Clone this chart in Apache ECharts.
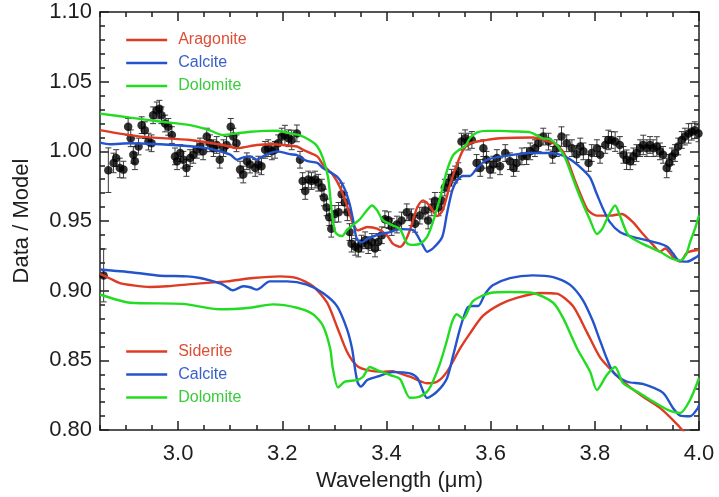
<!DOCTYPE html>
<html>
<head>
<meta charset="utf-8">
<script src="https://cdn.jsdelivr.net/npm/echarts@6/dist/echarts.min.js"></script>
<style>
  html, body { margin: 0; padding: 0; background: #fff; }
  #chart { width: 719px; height: 497px; }
</style>
</head>
<body>
<div id="chart"></div>
<script>
// Axis ranges and tick positions
const xRange = [2.85, 4.0];
const yRange = [0.80, 1.10];
const xMajorTicks = [3.0, 3.2, 3.4, 3.6, 3.8, 4.0];
const xMinorStep = 0.05;
const yMajorStep = 0.05;

// Measured ratio: [wavelength (um), data/model, 1-sigma error]
const observed = [
[2.866,0.9865,0.016],[2.876,0.9917,0.007],[2.881,0.9952,0.006],[2.888,0.9881,0.007],[2.895,0.9869,0.006],
[2.904,1.0176,0.006],[2.909,1.0094,0.006],[2.914,0.9975,0.006],[2.917,0.9929,0.006],[2.924,1.0035,0.006],
[2.930,1.0188,0.006],[2.936,1.0152,0.006],[2.943,1.0070,0.006],[2.949,1.0058,0.006],[2.952,1.0259,0.006],
[2.959,1.0294,0.006],[2.964,1.0306,0.006],[2.968,1.0259,0.006],[2.975,1.0200,0.006],[2.981,1.0176,0.006],
[2.988,1.0117,0.006],[2.994,0.9964,0.006],[2.998,0.9929,0.006],[3.004,0.9988,0.006],[3.010,0.9940,0.006],
[3.016,0.9881,0.006],[3.023,0.9952,0.006],[3.029,0.9975,0.006],[3.036,1.0011,0.006],[3.042,1.0035,0.006],
[3.048,1.0000,0.006],[3.055,1.0106,0.006],[3.061,1.0058,0.006],[3.068,1.0023,0.006],[3.074,1.0046,0.006],
[3.080,0.9940,0.006],[3.087,1.0023,0.006],[3.093,1.0046,0.006],[3.101,1.0176,0.006],[3.106,1.0106,0.006],
[3.112,1.0058,0.006],[3.119,0.9869,0.006],[3.125,0.9834,0.006],[3.132,0.9929,0.006],[3.138,0.9905,0.006],
[3.148,0.9881,0.006],[3.154,0.9905,0.006],[3.160,0.9893,0.006],[3.167,1.0011,0.006],[3.173,1.0023,0.006],
[3.180,1.0000,0.006],[3.186,1.0011,0.006],[3.192,1.0058,0.006],[3.199,1.0106,0.006],[3.205,1.0117,0.007],
[3.212,1.0094,0.006],[3.218,1.0082,0.007],[3.228,1.0129,0.006],[3.234,0.9940,0.006],[3.239,0.9787,0.006],
[3.244,0.9716,0.006],[3.250,0.9798,0.006],[3.256,0.9787,0.006],[3.263,0.9798,0.006],[3.269,0.9775,0.006],
[3.276,0.9740,0.006],[3.280,0.9669,0.006],[3.285,0.9598,0.006],[3.290,0.9527,0.006],[3.294,0.9445,0.006],
[3.301,0.9551,0.006],[3.308,0.9563,0.007],[3.314,0.9692,0.008],[3.320,0.9634,0.007],[3.325,0.9563,0.006],
[3.329,0.9421,0.006],[3.333,0.9338,0.006],[3.340,0.9315,0.006],[3.346,0.9303,0.006],[3.352,0.9338,0.006],
[3.359,0.9362,0.006],[3.365,0.9327,0.006],[3.372,0.9350,0.006],[3.378,0.9303,0.006],[3.384,0.9350,0.006],
[3.391,0.9398,0.006],[3.397,0.9513,0.006],[3.404,0.9506,0.006],[3.410,0.9457,0.006],[3.420,0.9475,0.006],
[3.429,0.9504,0.006],[3.439,0.9563,0.006],[3.448,0.9527,0.006],[3.455,0.9480,0.006],[3.464,0.9539,0.006],
[3.474,0.9575,0.006],[3.480,0.9504,0.006],[3.487,0.9598,0.006],[3.493,0.9645,0.006],[3.500,0.9598,0.006],
[3.506,0.9645,0.006],[3.512,0.9740,0.006],[3.519,0.9775,0.006],[3.525,0.9811,0.006],[3.532,0.9834,0.006],
[3.538,0.9858,0.006],[3.544,1.0070,0.006],[3.551,1.0094,0.006],[3.557,1.0070,0.006],[3.564,1.0082,0.006],
[3.573,0.9917,0.006],[3.580,0.9881,0.006],[3.586,1.0023,0.006],[3.592,0.9940,0.006],[3.599,0.9869,0.006],
[3.605,0.9905,0.006],[3.612,0.9952,0.006],[3.618,0.9893,0.006],[3.628,0.9988,0.006],[3.637,0.9929,0.006],
[3.644,0.9881,0.006],[3.650,0.9917,0.006],[3.660,0.9964,0.006],[3.669,0.9966,0.006],[3.676,1.0000,0.006],
[3.685,1.0023,0.006],[3.692,1.0058,0.006],[3.701,1.0106,0.006],[3.711,1.0070,0.006],[3.719,0.9975,0.006],
[3.727,1.0023,0.006],[3.736,1.0106,0.007],[3.746,1.0058,0.006],[3.756,1.0023,0.006],[3.765,0.9980,0.006],
[3.772,1.0035,0.006],[3.778,1.0000,0.006],[3.788,0.9917,0.006],[3.794,0.9988,0.006],[3.804,1.0023,0.006],
[3.810,0.9975,0.006],[3.820,1.0046,0.006],[3.826,1.0082,0.007],[3.832,1.0082,0.006],[3.839,1.0070,0.007],
[3.848,1.0046,0.006],[3.855,0.9975,0.006],[3.861,0.9940,0.007],[3.868,0.9929,0.006],[3.874,0.9964,0.006],
[3.880,0.9988,0.006],[3.887,1.0023,0.006],[3.893,1.0046,0.007],[3.900,1.0023,0.006],[3.906,1.0046,0.006],
[3.912,1.0023,0.006],[3.919,1.0035,0.007],[3.925,1.0000,0.006],[3.931,0.9975,0.006],[3.938,0.9881,0.007],
[3.943,0.9917,0.006],[3.948,0.9964,0.006],[3.954,0.9988,0.006],[3.960,1.0035,0.006],[3.967,1.0082,0.006],
[3.973,1.0106,0.006],[3.980,1.0129,0.007],[3.986,1.0141,0.006],[3.992,1.0152,0.006],[3.999,1.0129,0.006],
[2.857,0.9110,0.019]
];

// Upper model set
const aragonite = [
[2.850,1.0152],[2.927,1.0106],[3.023,1.0082],[3.086,1.0046],[3.113,1.0023],[3.151,1.0046],[3.182,1.0051],
[3.201,1.0046],[3.228,1.0035],[3.240,1.0011],[3.267,0.9964],[3.278,0.9905],[3.297,0.9832],[3.311,0.9740],
[3.324,0.9612],[3.336,0.9480],[3.345,0.9433],[3.363,0.9457],[3.382,0.9445],[3.401,0.9398],[3.412,0.9338],
[3.426,0.9315],[3.434,0.9343],[3.445,0.9435],[3.459,0.9598],[3.470,0.9648],[3.484,0.9605],[3.497,0.9535],
[3.508,0.9577],[3.522,0.9761],[3.535,0.9903],[3.547,1.0009],[3.560,1.0058],[3.593,1.0082],[3.618,1.0094],
[3.681,1.0099],[3.708,1.0075],[3.724,1.0051],[3.737,1.0009],[3.748,0.9931],[3.762,0.9789],[3.775,0.9669],
[3.787,0.9577],[3.804,0.9539],[3.829,0.9539],[3.852,0.9551],[3.873,0.9492],[3.892,0.9409],[3.912,0.9327],
[3.925,0.9280],[3.935,0.9303],[3.950,0.9244],[3.964,0.9209],[3.977,0.9273],[3.996,0.9292],[4.000,0.9294]
];
const calciteUpper = [
[2.850,1.0063],[2.869,1.0051],[2.908,1.0058],[2.990,1.0046],[3.055,1.0023],[3.100,0.9976],[3.113,0.9940],
[3.125,0.9957],[3.138,0.9964],[3.151,0.9940],[3.163,0.9964],[3.176,0.9988],[3.190,1.0000],[3.215,0.9980],
[3.228,0.9973],[3.247,0.9931],[3.267,0.9917],[3.278,0.9881],[3.305,0.9818],[3.320,0.9728],[3.330,0.9612],
[3.336,0.9506],[3.343,0.9372],[3.353,0.9347],[3.363,0.9372],[3.382,0.9400],[3.407,0.9421],[3.426,0.9442],
[3.451,0.9435],[3.468,0.9338],[3.478,0.9280],[3.489,0.9303],[3.507,0.9386],[3.516,0.9551],[3.526,0.9716],
[3.535,0.9787],[3.547,0.9823],[3.560,0.9823],[3.574,0.9881],[3.593,0.9940],[3.624,0.9964],[3.676,0.9988],
[3.714,0.9988],[3.739,0.9970],[3.758,0.9929],[3.777,0.9869],[3.791,0.9811],[3.804,0.9692],[3.816,0.9586],
[3.829,0.9492],[3.848,0.9421],[3.873,0.9386],[3.900,0.9362],[3.925,0.9338],[3.939,0.9315],[3.950,0.9268],
[3.960,0.9221],[3.977,0.9209],[3.996,0.9244],[4.000,0.9258]
];
const dolomiteUpper = [
[2.850,1.0271],[2.908,1.0242],[2.965,1.0214],[3.023,1.0188],[3.061,1.0150],[3.086,1.0117],[3.113,1.0129],
[3.138,1.0141],[3.167,1.0147],[3.190,1.0148],[3.215,1.0129],[3.234,1.0115],[3.253,1.0080],[3.267,1.0037],
[3.278,0.9952],[3.288,0.9811],[3.295,0.9563],[3.301,0.9428],[3.307,0.9400],[3.315,0.9393],[3.324,0.9435],
[3.340,0.9485],[3.349,0.9513],[3.361,0.9570],[3.372,0.9612],[3.382,0.9577],[3.393,0.9506],[3.411,0.9471],
[3.426,0.9442],[3.439,0.9343],[3.451,0.9329],[3.464,0.9336],[3.478,0.9386],[3.489,0.9492],[3.503,0.9669],
[3.516,0.9860],[3.528,0.9973],[3.541,1.0016],[3.551,1.0037],[3.560,1.0094],[3.574,1.0136],[3.593,1.0147],
[3.618,1.0147],[3.647,1.0143],[3.676,1.0136],[3.700,1.0094],[3.714,1.0087],[3.729,1.0037],[3.743,0.9952],
[3.756,0.9825],[3.772,0.9669],[3.791,0.9506],[3.804,0.9407],[3.814,0.9442],[3.823,0.9513],[3.839,0.9612],
[3.848,0.9542],[3.864,0.9400],[3.892,0.9336],[3.925,0.9280],[3.948,0.9230],[3.964,0.9216],[3.975,0.9258],
[3.983,0.9350],[3.992,0.9442],[4.000,0.9541]
];

// Lower model set
const siderite = [
[2.850,0.9120],[2.869,0.9088],[2.888,0.9055],[2.913,0.9039],[2.946,0.9027],[2.979,0.9032],[3.042,0.9053],
[3.094,0.9067],[3.144,0.9091],[3.196,0.9103],[3.228,0.9091],[3.259,0.9032],[3.286,0.8914],[3.305,0.8742],
[3.324,0.8564],[3.343,0.8462],[3.363,0.8430],[3.393,0.8418],[3.412,0.8423],[3.426,0.8407],[3.445,0.8383],
[3.478,0.8336],[3.497,0.8347],[3.516,0.8418],[3.541,0.8584],[3.560,0.8692],[3.585,0.8819],[3.618,0.8902],
[3.650,0.8949],[3.695,0.8984],[3.727,0.8979],[3.758,0.8890],[3.785,0.8701],[3.810,0.8522],[3.835,0.8418],
[3.862,0.8324],[3.892,0.8241],[3.925,0.8159],[3.958,0.8041],[3.983,0.7935],[4.000,0.7864]
];
const calciteLower = [
[2.850,0.9152],[2.913,0.9131],[2.965,0.9108],[3.017,0.9103],[3.042,0.9091],[3.061,0.9074],[3.086,0.9044],
[3.105,0.9003],[3.125,0.9032],[3.138,0.9025],[3.151,0.9008],[3.176,0.9067],[3.209,0.9067],[3.247,0.9044],
[3.278,0.8984],[3.305,0.8890],[3.324,0.8727],[3.334,0.8584],[3.340,0.8430],[3.345,0.8338],[3.351,0.8312],
[3.363,0.8359],[3.382,0.8383],[3.412,0.8416],[3.445,0.8407],[3.460,0.8371],[3.468,0.8300],[3.478,0.8230],
[3.497,0.8276],[3.516,0.8371],[3.528,0.8536],[3.541,0.8725],[3.555,0.8876],[3.566,0.8890],[3.576,0.8890],
[3.589,0.8975],[3.604,0.9039],[3.637,0.9091],[3.681,0.9110],[3.720,0.9098],[3.752,0.9044],[3.777,0.8933],
[3.796,0.8784],[3.810,0.8642],[3.835,0.8416],[3.862,0.8347],[3.892,0.8331],[3.931,0.8267],[3.950,0.8159],
[3.964,0.8104],[3.983,0.8099],[3.998,0.8159],[4.000,0.8182]
];
const dolomiteLower = [
[2.850,0.8973],[2.908,0.8914],[3.009,0.8906],[3.080,0.8867],[3.138,0.8878],[3.182,0.8902],[3.228,0.8878],
[3.259,0.8831],[3.278,0.8749],[3.292,0.8584],[3.297,0.8442],[3.307,0.8306],[3.320,0.8347],[3.343,0.8359],
[3.355,0.8383],[3.368,0.8453],[3.382,0.8430],[3.407,0.8395],[3.426,0.8366],[3.445,0.8232],[3.464,0.8241],
[3.478,0.8276],[3.489,0.8347],[3.503,0.8480],[3.516,0.8642],[3.526,0.8777],[3.535,0.8831],[3.547,0.8798],
[3.566,0.8925],[3.599,0.8984],[3.637,0.8991],[3.681,0.8984],[3.720,0.8914],[3.739,0.8805],[3.766,0.8586],
[3.791,0.8418],[3.804,0.8288],[3.823,0.8395],[3.839,0.8453],[3.854,0.8338],[3.881,0.8276],[3.906,0.8218],
[3.939,0.8147],[3.964,0.8123],[3.983,0.8218],[4.000,0.8374]
];

const RED = '#de3b24', BLUE = '#2354cc', GREEN = '#22dc22';
const RED_T = '#dc4e36', BLUE_T = '#3a60c8', GREEN_T = '#3acb3a';
const FONT = '"Liberation Sans", Arial, Helvetica, sans-serif';
const AXIS_COLOR = '#1e1e1e';

const chart = echarts.init(document.getElementById('chart'), null, { renderer: 'canvas' });

function modelLine(name, data, color) {
  return {
    name, type: 'line', data, xAxisIndex: 0, yAxisIndex: 0,
    showSymbol: false, symbol: 'none', smooth: 0.25, clip: true,
    lineStyle: { color, width: 2.4 }, itemStyle: { color },
    z: 4, silent: true
  };
}

function legendBlock(top, entries) {
  return {
    left: 125, top, orient: 'vertical', padding: 0, itemGap: 7,
    itemWidth: 41, itemHeight: 14, selectedMode: false,
    // legend keys are plain line segments, no marker
    itemStyle: { color: 'rgba(0,0,0,0)', borderWidth: 0, opacity: 0 },
    lineStyle: { width: 2.4 },
    textStyle: { fontFamily: FONT, fontSize: 16, padding: [0, 0, 0, 6] },
    data: entries.map(([name, color]) => ({ name, textStyle: { color } }))
  };
}

function xAxisBase(position, showLine) {
  return {
    type: 'value', position, min: xRange[0], max: xRange[1],
    axisLine: { show: showLine, onZero: false, lineStyle: { color: AXIS_COLOR, width: 1.5 } },
    splitLine: { show: false }
  };
}

const option = {
  animation: false,
  backgroundColor: '#ffffff',
  grid: { left: 100, right: 20, top: 12, bottom: 61, containLabel: false },
  legend: [
    legendBlock(32, [['Aragonite', RED_T], ['Calcite', BLUE_T], ['Dolomite', GREEN_T]]),
    legendBlock(343.5, [['Siderite', RED_T], ['Calcite', BLUE_T], ['Dolomite', GREEN_T]])
  ],
  xAxis: [
    Object.assign(xAxisBase('bottom', true), {
      name: 'Wavelength (μm)', nameLocation: 'middle', nameGap: 34,
      nameTextStyle: { fontFamily: FONT, fontSize: 22, color: AXIS_COLOR },
      axisTick: { show: true, inside: true, length: 9, customValues: xMajorTicks,
        lineStyle: { color: AXIS_COLOR, width: 1.5 } },
      axisLabel: { show: true, customValues: xMajorTicks, margin: 13,
        fontFamily: FONT, fontSize: 22, color: AXIS_COLOR,
        formatter: v => Number(v).toFixed(1) }
    }),
    Object.assign(xAxisBase('bottom', false), {
      interval: xMinorStep,
      axisTick: { show: true, inside: true, length: 5, lineStyle: { color: AXIS_COLOR, width: 1.5 } },
      axisLabel: { show: false }
    }),
    Object.assign(xAxisBase('top', true), {
      axisTick: { show: true, inside: true, length: 9, customValues: xMajorTicks,
        lineStyle: { color: AXIS_COLOR, width: 1.5 } },
      axisLabel: { show: false }
    }),
    Object.assign(xAxisBase('top', false), {
      interval: xMinorStep,
      axisTick: { show: true, inside: true, length: 5, lineStyle: { color: AXIS_COLOR, width: 1.5 } },
      axisLabel: { show: false }
    })
  ],
  yAxis: [
    {
      type: 'value', position: 'left', min: yRange[0], max: yRange[1], interval: yMajorStep,
      name: 'Data / Model', nameLocation: 'middle', nameGap: 67, nameRotate: 90,
      nameTextStyle: { fontFamily: FONT, fontSize: 22, color: AXIS_COLOR },
      axisLine: { show: true, onZero: false, lineStyle: { color: AXIS_COLOR, width: 1.5 } },
      axisTick: { show: true, inside: true, length: 9, lineStyle: { color: AXIS_COLOR, width: 1.5 } },
      minorTick: { show: true, splitNumber: 5, length: 5, lineStyle: { color: AXIS_COLOR, width: 1.5 } },
      axisLabel: { margin: 8, fontFamily: FONT, fontSize: 22, color: AXIS_COLOR,
        formatter: v => Number(v).toFixed(2) },
      splitLine: { show: false }, minorSplitLine: { show: false }
    },
    {
      type: 'value', position: 'right', min: yRange[0], max: yRange[1], interval: yMajorStep,
      axisLine: { show: true, onZero: false, lineStyle: { color: AXIS_COLOR, width: 1.5 } },
      axisTick: { show: true, inside: true, length: 9, lineStyle: { color: AXIS_COLOR, width: 1.5 } },
      minorTick: { show: true, splitNumber: 5, length: 5, lineStyle: { color: AXIS_COLOR, width: 1.5 } },
      axisLabel: { show: false },
      splitLine: { show: false }, minorSplitLine: { show: false }
    }
  ],
  series: [
    {
      name: 'errors', type: 'custom', xAxisIndex: 0, yAxisIndex: 0, data: observed,
      encode: { x: 0, y: 1 }, clip: true, z: 2, silent: true,
      renderItem: function (params, api) {
        const x = api.value(0), y = api.value(1), e = api.value(2);
        const hi = api.coord([x, y + e]);
        const lo = api.coord([x, y - e]);
        const cap = 3;
        const st = { stroke: '#3a3a3a', lineWidth: 1 };
        return {
          type: 'group',
          children: [
            { type: 'line', shape: { x1: hi[0], y1: hi[1], x2: lo[0], y2: lo[1] }, style: st },
            { type: 'line', shape: { x1: hi[0] - cap, y1: hi[1], x2: hi[0] + cap, y2: hi[1] }, style: st },
            { type: 'line', shape: { x1: lo[0] - cap, y1: lo[1], x2: lo[0] + cap, y2: lo[1] }, style: st }
          ]
        };
      }
    },
    {
      name: 'observed', type: 'scatter', xAxisIndex: 0, yAxisIndex: 0,
      data: observed.map(d => [d[0], d[1]]),
      symbol: 'circle', symbolSize: 8.5, itemStyle: { color: '#000' }, z: 3, silent: true
    },
    modelLine('Aragonite', aragonite, RED),
    modelLine('Calcite', calciteUpper, BLUE),
    modelLine('Dolomite', dolomiteUpper, GREEN),
    modelLine('Siderite', siderite, RED),
    modelLine('Calcite', calciteLower, BLUE),
    modelLine('Dolomite', dolomiteLower, GREEN)
  ]
};

chart.setOption(option);
</script>
</body>
</html>
